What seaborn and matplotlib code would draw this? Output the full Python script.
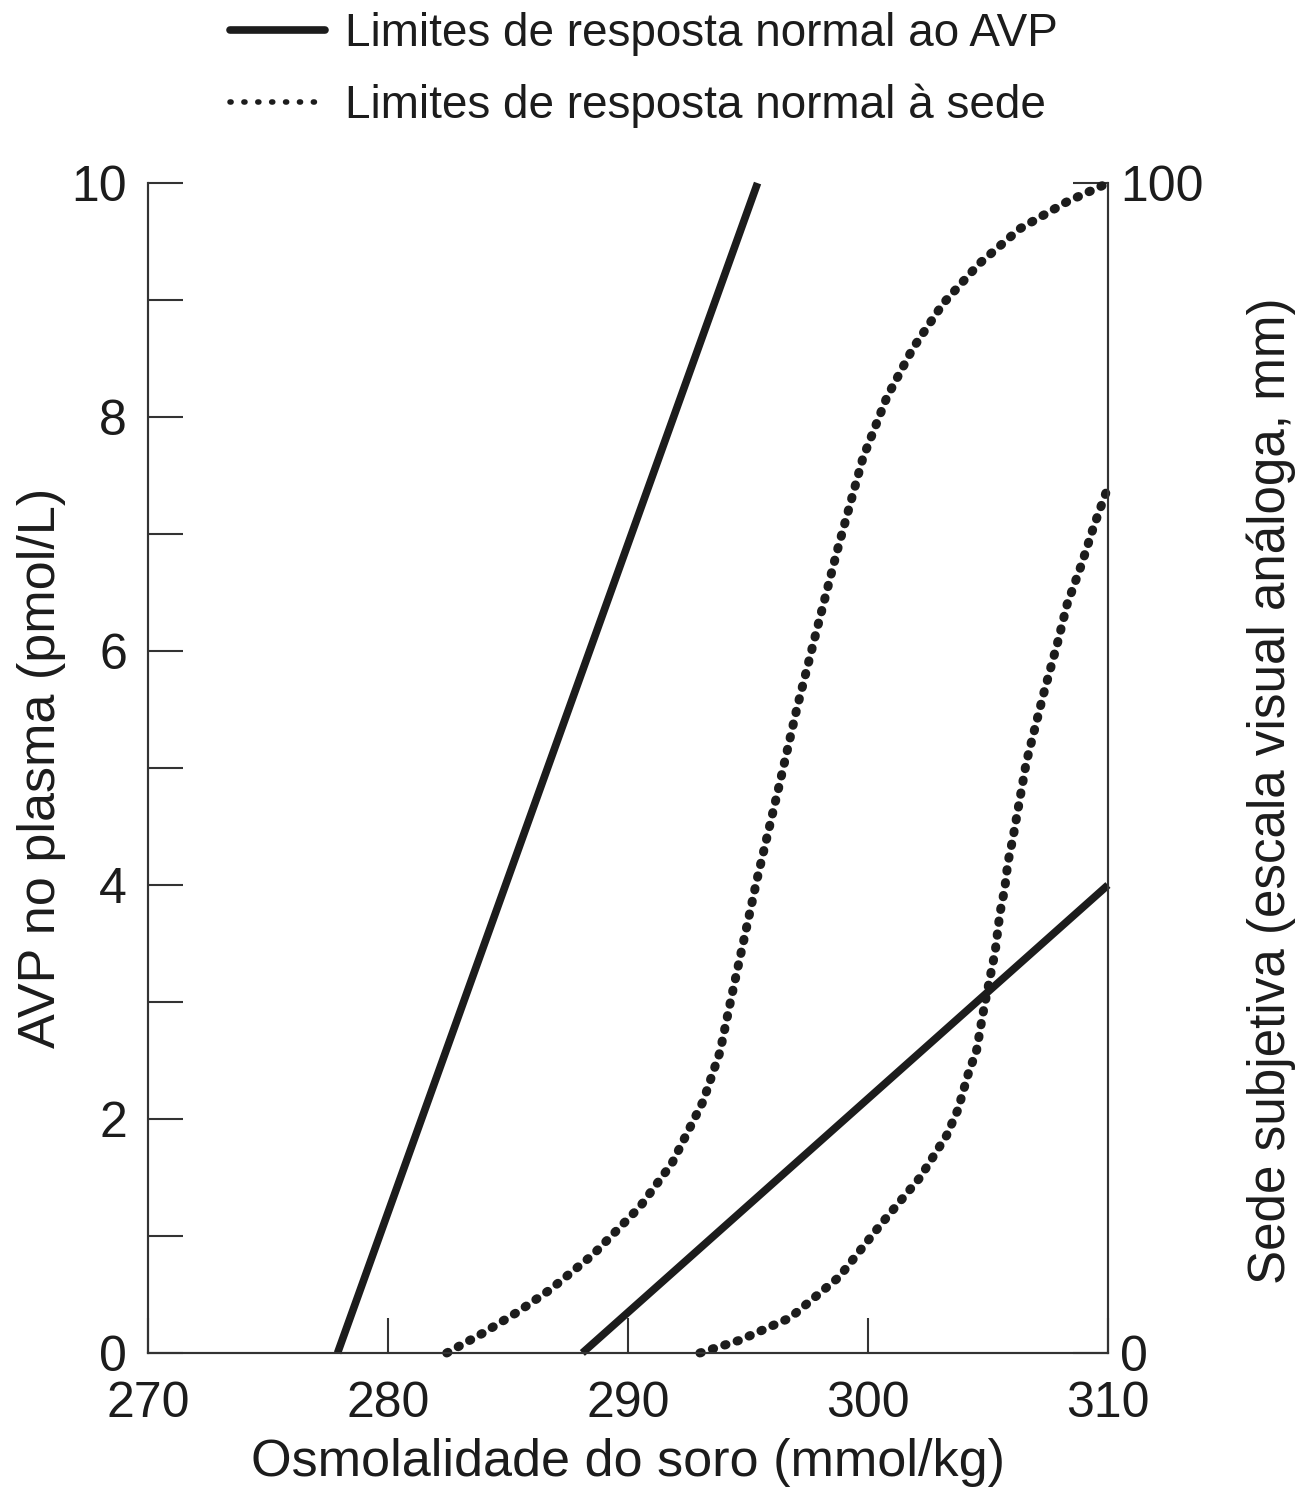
import matplotlib
matplotlib.use("Agg")
import matplotlib.pyplot as plt
import seaborn as sns
from matplotlib.lines import Line2D
from matplotlib.ticker import MultipleLocator, FixedLocator

# AVP response limits (left axis, pmol/L)
avp_upper_osm = [277.9, 295.4]
avp_upper_pmol = [0, 10]
avp_lower_osm = [288.1, 310.0]
avp_lower_pmol = [0, 4.0]

# thirst response limits (right axis, mm)
thirst_upper_osm = [282.45, 283.96, 285.4, 286.75, 288.54, 290.5, 291.83, 293.13, 293.83,
                    294.32, 295.38, 296.29, 297.04, 297.88, 298.71, 299.79, 300.79,
                    301.88, 303.13, 304.63, 306.33, 308.29, 310.0]
thirst_upper_mm = [0, 1.7, 3.5, 5.4, 8.4, 12.5, 16.2, 21.5, 25.7,
                   30.5, 40.5, 48.4, 55.1, 61.9, 68.5, 76.5, 81.7,
                   85.9, 89.7, 93.1, 96.1, 98.4, 100]
thirst_lower_osm = [293.0, 294.67, 296.75, 298.8, 300.5, 302.17, 303.28, 303.75, 304.17,
                    304.53, 304.8, 305.0, 305.3, 305.5, 305.7, 305.83, 306.04, 306.6,
                    307.3, 307.9, 308.3, 308.9, 309.4, 310.0]
thirst_lower_mm = [0, 1.1, 3.0, 6.5, 10.9, 15.0, 18.6, 20.8, 23.8,
                   25.9, 29.1, 31.2, 34.3, 37.6, 39.7, 41.9, 44.0, 50.5,
                   56.2, 60.7, 64.0, 67.4, 70.6, 74.0]

x_ticks = [270, 280, 290, 300, 310]
left_ticks = [0, 2, 4, 6, 8, 10]
right_ticks = [0, 100]

legend_labels = ["Limites de resposta normal ao AVP",
                 "Limites de resposta normal à sede"]

sns.set_theme(style="ticks")
plt.rcParams["font.family"] = ["Liberation Sans", "DejaVu Sans"]

ink = "#1c1c1c"
spine_c = "#333333"
dots = (0, (0.15, 1.29))

fig = plt.figure(figsize=(13.07, 15.08), dpi=100)
ax = fig.add_axes([0.1132, 0.1028, 0.7345, 0.7758])
ax2 = ax.twinx()

sns.lineplot(x=avp_upper_osm, y=avp_upper_pmol, ax=ax, color=ink, linewidth=5.5,
             legend=False, clip_on=False)
sns.lineplot(x=avp_lower_osm, y=avp_lower_pmol, ax=ax, color=ink, linewidth=5.5,
             legend=False, clip_on=False)
sns.lineplot(x=thirst_upper_osm, y=thirst_upper_mm, ax=ax2, color=ink, linewidth=6.5,
             linestyle=dots, legend=False, clip_on=False)
sns.lineplot(x=thirst_lower_osm, y=thirst_lower_mm, ax=ax2, color=ink, linewidth=6.5,
             linestyle=dots, legend=False, clip_on=False)
for ln in ax.lines:
    ln.set_solid_capstyle("butt")
for ln in ax2.lines:
    ln.set_dash_capstyle("round")

ax.set_xlim(270, 310)
ax.set_ylim(0, 10)
ax2.set_ylim(0, 100)

for a in (ax, ax2):
    a.spines["top"].set_visible(False)
    for s in ("left", "right", "bottom"):
        a.spines[s].set_linewidth(1.5)
        a.spines[s].set_color(spine_c)
    a.grid(False)

ax.xaxis.set_major_locator(FixedLocator(x_ticks))
ax.yaxis.set_major_locator(FixedLocator(left_ticks))
ax.yaxis.set_minor_locator(MultipleLocator(1))
ax2.yaxis.set_major_locator(FixedLocator(right_ticks))

tick_kw = dict(direction="in", length=25, width=1.5, color=spine_c, labelsize=36, labelcolor=ink)
ax.tick_params(axis="x", which="major", pad=20, **tick_kw)
ax.tick_params(axis="y", which="major", pad=15, **tick_kw)
ax.tick_params(axis="y", which="minor", direction="in", length=25, width=1.5, color=spine_c)
ax2.tick_params(axis="y", which="major", pad=9, **tick_kw)

ax.set_xlabel("Osmolalidade do soro (mmol/kg)", fontsize=37.5, color=ink, labelpad=8)
ax.set_ylabel("AVP no plasma (pmol/L)", fontsize=37.5, color=ink, labelpad=4)
ax2.set_ylabel("Sede subjetiva (escala visual análoga, mm)", fontsize=36.8, color=ink,
               labelpad=31)
ax2.yaxis.label.set_y(0.481)

handles = [Line2D([], [], color=ink, linewidth=5.5, solid_capstyle="round"),
           Line2D([], [], color=ink, linewidth=4, linestyle=(0, (0.2, 2.3)),
                  dash_capstyle="round")]
fig.legend(handles, legend_labels, loc="upper center", bbox_to_anchor=(0.493, 0.995),
           frameon=False, fontsize=33, handlelength=2.07, handletextpad=0.44,
           labelspacing=0.6, borderpad=0.1, borderaxespad=0, labelcolor=ink)

fig.savefig("out.png", dpi=100, facecolor="white")
